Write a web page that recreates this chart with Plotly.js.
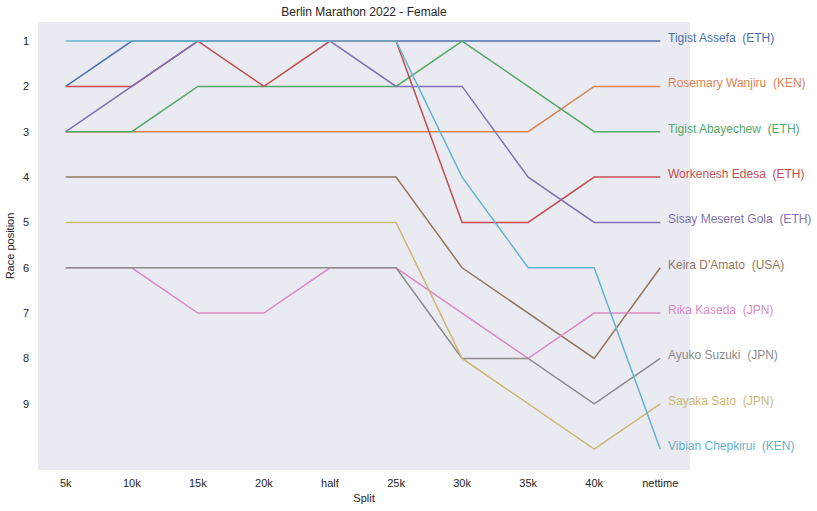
<!DOCTYPE html>
<html>
<head>
<meta charset="utf-8">
<script src="https://cdn.plot.ly/plotly-3.0.1.min.js"></script>
<style>html,body{margin:0;padding:0;background:#fff;}#chart{width:817px;height:511px;}</style>
</head>
<body>
<div id="chart"></div>
<script>
const splits = ["5k","10k","15k","20k","half","25k","30k","35k","40k","nettime"];
const runners = ["Tigist Assefa  (ETH)","Rosemary Wanjiru  (KEN)","Tigist Abayechew  (ETH)","Workenesh Edesa  (ETH)","Sisay Meseret Gola  (ETH)","Keira D'Amato  (USA)","Rika Kaseda  (JPN)","Ayuko Suzuki  (JPN)","Sayaka Sato  (JPN)","Vibian Chepkirui  (KEN)"];
const assefa    = [2,1,1,1,1,1,1,1,1,1];
const wanjiru   = [3,3,3,3,3,3,3,3,2,2];
const abayechew = [3,3,2,2,2,2,1,2,3,3];
const edesa     = [2,2,1,2,1,1,5,5,4,4];
const gola      = [3,2,1,1,1,2,2,4,5,5];
const damato    = [4,4,4,4,4,4,6,7,8,6];
const kaseda    = [6,6,7,7,6,6,7,8,7,7];
const suzuki    = [6,6,6,6,6,6,8,8,9,8];
const sato      = [5,5,5,5,5,5,8,9,10,9];
const chepkirui = [1,1,1,1,1,1,4,6,6,10];
const yTicks = [1,2,3,4,5,6,7,8,9];

const series = [assefa,wanjiru,abayechew,edesa,gola,damato,kaseda,suzuki,sato,chepkirui];
const colors = ["#4C72B0","#DD8452","#55A868","#C44E52","#8172B3","#937860","#DA8BC3","#8C8C8C","#CCB974","#64B5CD"];

const traces = series.map((s,i)=>({
  type:"scatter", mode:"lines", x:splits, y:s, name:runners[i],
  line:{color:colors[i], width:1.5}, cliponaxis:false, hoverinfo:"skip"
}));

const annotations = series.map((s,i)=>({
  x:"nettime", y:s[s.length-1], xref:"x", yref:"y", text:runners[i],
  showarrow:false, xanchor:"left", yanchor:"middle", xshift:6, yshift:3,
  font:{family:"Liberation Sans, Arial, sans-serif", size:12, color:colors[i]}
}));

const layout = {
  width:817, height:511,
  margin:{l:38, r:127, t:22, b:41},
  paper_bgcolor:"#ffffff", plot_bgcolor:"#EAEAF2",
  showlegend:false,
  font:{family:"Liberation Sans, Arial, sans-serif", size:11, color:"#262626"},
  title:{text:"Berlin Marathon 2022 - Female", x:0.5, xref:"paper", xanchor:"center", y:1, yref:"paper", yanchor:"bottom", pad:{b:6}, font:{size:12, color:"#262626"}},
  xaxis:{type:"category", categoryorder:"array", categoryarray:splits, range:[-0.42,9.45],
    showgrid:false, zeroline:false, showline:false, ticks:"", ticklen:0, ticklabelstandoff:5,
    title:{text:"Split", font:{size:11}, standoff:6}, tickfont:{size:11}},
  yaxis:{range:[10.46,0.58], tickvals:yTicks, ticktext:yTicks.map(String),
    showgrid:false, zeroline:false, showline:false, ticks:"", ticklabelstandoff:8,
    title:{text:"Race position", font:{size:11}, standoff:6}, tickfont:{size:11}},
  annotations:annotations
};

Plotly.newPlot("chart", traces, layout, {displayModeBar:false, staticPlot:true});
</script>
</body>
</html>
